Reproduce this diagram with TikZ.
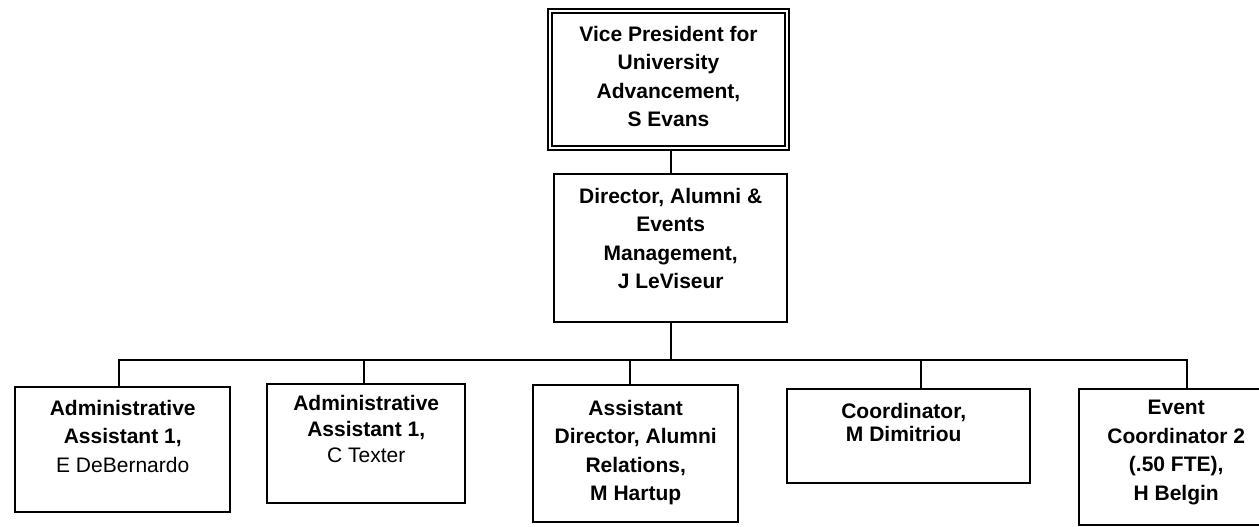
\documentclass[tikz,border=0pt]{standalone}
\usepackage{fontspec}
\setmainfont{Liberation Sans}
\begin{document}
\begin{tikzpicture}[x=1pt,y=-1pt,
  box/.style={draw=black, line width=2.4pt, inner sep=0pt, anchor=north west},
  vpbox/.style={draw=black, double, double distance=2pt, line width=2pt, inner sep=0pt, anchor=north west},
  txt/.style={inner sep=0pt, anchor=north, align=center, font=\bfseries\fontsize{21}{28.5}\selectfont},
  conn/.style={line width=2.4pt}]
\useasboundingbox (0,0) rectangle (1259,527);
\clip (0,0) rectangle (1259,527);
% boxes
\node[vpbox, minimum width=237pt, minimum height=137pt] (vp) at (549,10) {};
\node[box, minimum width=233pt, minimum height=148pt] (dir) at (553,173) {};
\node[box, minimum width=215pt, minimum height=125pt] (b1) at (14,386) {};
\node[box, minimum width=198pt, minimum height=119pt] (b2) at (266,383) {};
\node[box, minimum width=205pt, minimum height=137pt] (b3) at (532,384) {};
\node[box, minimum width=243pt, minimum height=94pt] (b4) at (786,388) {};
\node[box, minimum width=194pt, minimum height=136pt] (b5) at (1078,388) {};
% texts
\node[txt] (vpt) at (vp.north |- 0,26) {Vice President for\\University\\Advancement,\\S Evans};
\node[txt] (dirt) at (dir.north |- 0,188) {Director, Alumni \&\\Events\\Management,\\J LeViseur};
\node[txt] (b1t) at (b1.north |- 0,400) {Administrative\\Assistant 1,\\\mdseries E DeBernardo};
\node[txt, font=\bfseries\fontsize{21}{26}\selectfont] (b2t) at (b2.north |- 0,395) {Administrative\\Assistant 1,\\\mdseries C Texter};
\node[txt] (b3t) at (b3.north |- 0,400) {Assistant\\Director, Alumni\\Relations,\\M Hartup};
\node[txt, font=\bfseries\fontsize{21}{23}\selectfont] (b4t) at ([xshift=-5pt]b4.north |- 0,403) {Coordinator,\\M Dimitriou};
\node[txt] (b5t) at (b5.north |- 0,400) {Event\\Coordinator 2\\(.50 FTE),\\H Belgin};
% connectors
\coordinate (bus) at (670,360);
\coordinate (t1) at ([xshift=-3.5pt]b1.north);
\coordinate (t2) at ([xshift=-2pt]b2.north);
\coordinate (t3) at ([xshift=-5.5pt]b3.north);
\coordinate (t4) at ([xshift=12.5pt]b4.north);
\coordinate (t5) at ([xshift=11pt]b5.north);
\draw[conn] (dir.north) -- (dir.north |- vp.south);
\draw[conn] (dir.south) -- (dir.south |- bus);
\draw[conn, line cap=rect] (t1 |- bus) -- (t5 |- bus);
\foreach \t in {t1,t2,t3,t4,t5} \draw[conn] (\t) -- (\t |- bus);
\end{tikzpicture}
\end{document}
